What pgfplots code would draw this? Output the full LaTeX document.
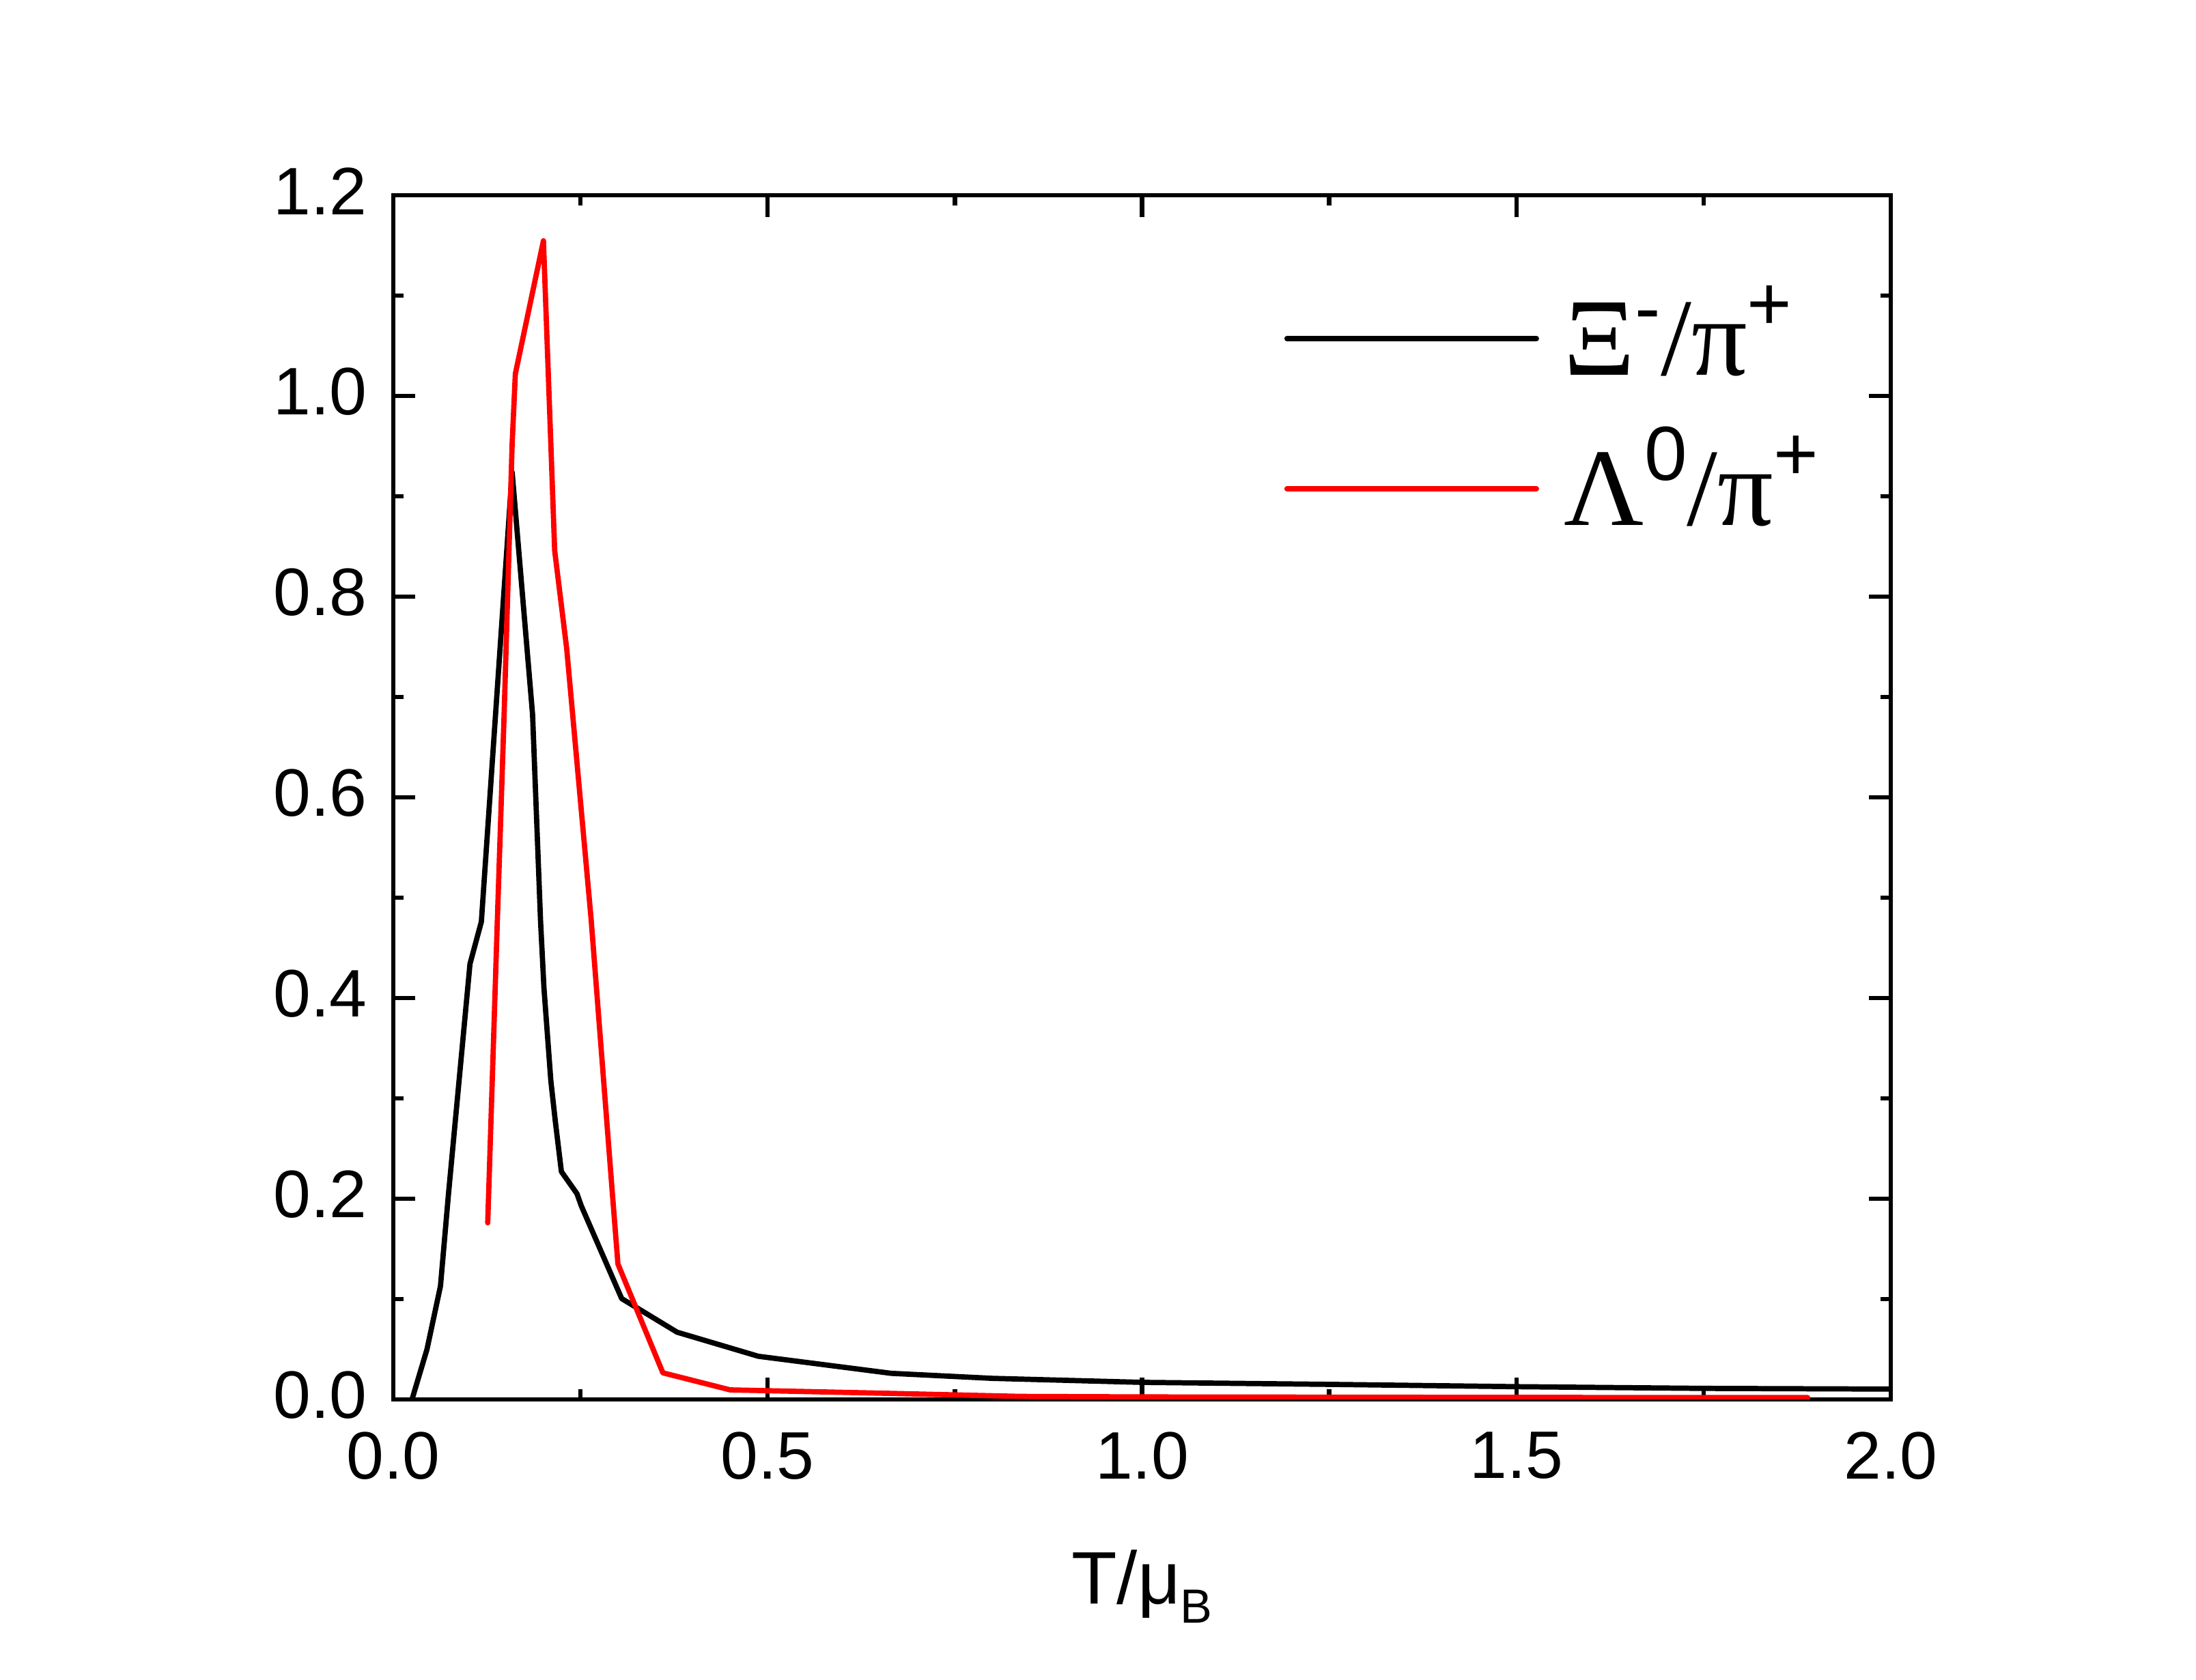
\documentclass[border=0pt]{standalone}
\usepackage{fontspec}
\setmainfont{Liberation Sans}
\newfontfamily\tnr{Liberation Serif}
\usepackage{pgfplots}
\pgfplotsset{compat=1.18}
\newcommand{\lgsup}[2]{\raisebox{#1}{\fontsize{16}{17}\selectfont #2}}
\newcommand{\lgbig}[1]{{\tnr\fontsize{23}{25}\selectfont #1}}
\begin{document}
\begin{tikzpicture}
\begin{axis}[
  scale only axis,
  width=10.965cm, height=8.82cm,
  xmin=0, xmax=2, ymin=0, ymax=1.2,
  xtick={0,0.5,1,1.5,2},
  ytick={0,0.2,0.4,0.6,0.8,1.0,1.2},
  minor tick num=1,
  tick align=inside,
  xtick pos=both, ytick pos=both,
  major tick length=0.16cm,
  minor tick length=0.075cm,
  every tick/.style={line width=0.9pt, black},
  axis line style={line width=0.9pt},
  /pgf/number format/assume math mode=true,
  /pgf/number format/.cd, fixed, fixed zerofill, precision=1,
  /pgfplots/.cd,
  ticklabel style={font=\fontsize{14}{16}\selectfont},
  xticklabel style={inner sep=0pt, anchor=north, yshift=-0.23cm},
  yticklabel style={inner sep=0pt, anchor=east, xshift=-0.185cm, yshift=0.03cm},
  xlabel={T/μ\raisebox{-0.14cm}{\fontsize{10}{10}\selectfont B}},
  xlabel style={font=\fontsize{15.5}{17}\selectfont, at={(axis description cs:0.5,0)}, anchor=base, yshift=-1.5cm, inner sep=0pt},
  legend cell align=left,
  legend style={draw=none, fill=none, at={(rel axis cs:0.595,0.9116)}, anchor=north west,
    inner sep=0pt, outer sep=0pt, row sep=0.56cm,
    nodes={inner sep=0pt, text height=0.54cm, text depth=0pt}},
  legend image code/.code={\draw[#1, line width=1.15pt, line cap=round] (0cm,0cm) -- (1.825cm,0cm); \path[draw=none, fill=none] (0cm,0cm) rectangle (2.03cm,0.01cm);},
]
\addplot[black, line width=1.1pt, line join=round, line cap=round] coordinates {
(0.025,0.000) (0.045,0.050) (0.063,0.113) (0.0736,0.204) (0.1024,0.434)
(0.1176,0.476) (0.1587,0.924) (0.186,0.6825) (0.1967,0.476) (0.2012,0.410)
(0.2104,0.3175) (0.2164,0.277) (0.2245,0.227) (0.2453,0.205) (0.251,0.193)
(0.305,0.1005) (0.379,0.067) (0.4875,0.043) (0.665,0.026) (0.8,0.021)
(1.000,0.017) (1.250,0.015) (1.500,0.0127) (1.750,0.011) (2.000,0.0103)
};
\addlegendentry{\lgbig{Ξ}\lgsup{0.30cm}{-}\lgbig{/π}\lgsup{0.33cm}{+}}
\addplot[red, line width=1.1pt, line join=round, line cap=round] coordinates {
(0.1261,0.176) (0.1389,0.476) (0.148,0.6825) (0.1587,0.952) (0.163,1.022)
(0.2005,1.1546) (0.2104,0.952) (0.2155,0.846) (0.2316,0.748) (0.2642,0.4785)
(0.2925,0.206) (0.300,0.135) (0.360,0.0265) (0.450,0.0095) (0.665,0.006)
(0.838,0.003) (1.000,0.0025) (1.500,0.002) (1.889,0.0018)
};
\addlegendentry{\lgbig{Λ}\lgsup{0.33cm}{0}\lgbig{/π}\lgsup{0.33cm}{+}}
\end{axis}
\path[use as bounding box] (-2.88cm,-2.055cm) rectangle (13.2cm,10.25cm);
\end{tikzpicture}
\end{document}
